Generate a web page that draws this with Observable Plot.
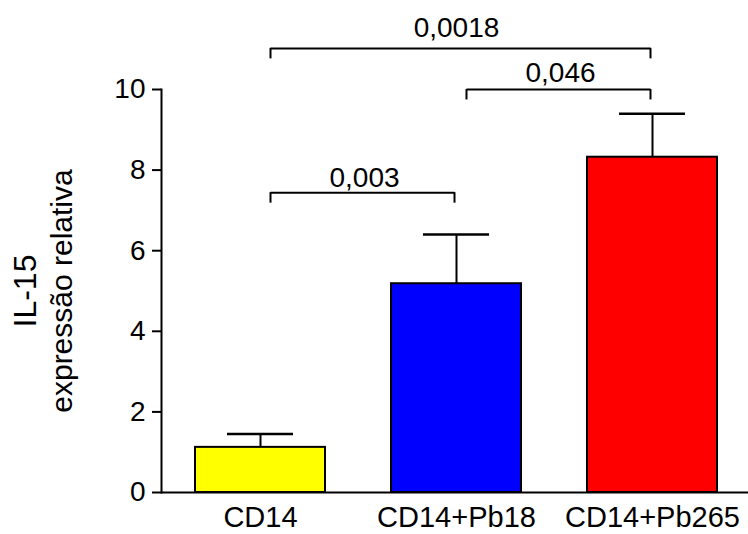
<!DOCTYPE html>
<html>
<head>
<meta charset="utf-8">
<script src="https://cdn.jsdelivr.net/npm/d3@7"></script>
<script src="https://cdn.jsdelivr.net/npm/@observablehq/plot@0.6"></script>
<style>
  html, body { margin: 0; padding: 0; background: #fff; }
  g[aria-label^="x-axis"] text { font-size: 29px; }
</style>
</head>
<body>
<div id="chart"></div>
<script>
// ---- data ----
const groups = ["CD14", "CD14+Pb18", "CD14+Pb265"];
const means = [1.12, 5.18, 8.32];
const errors = [0.33, 1.22, 1.08];
const barColors = ["#ffff00", "#0000ff", "#ff0000"];
const yTicks = [0, 2, 4, 6, 8, 10];

const bracketFrom = ["CD14", "CD14+Pb18", "CD14"];
const bracketTo = ["CD14+Pb18", "CD14+Pb265", "CD14+Pb265"];
const bracketLabel = ["0,003", "0,046", "0,0018"];
const bracketLevel = [7.44, 10.0, 11.02];
const labelLevel = [7.57, 10.18, 11.30];

const yTitle = "IL-15";
const ySubtitle = "expressão relativa";

// ---- build tables ----
const bars = groups.map((g, i) => ({group: g, value: means[i], err: errors[i]}));
const brackets = bracketFrom.map((f, i) => ({
  from: f,
  to: bracketTo[i],
  label: bracketLabel[i],
  level: bracketLevel[i],
  labelLevel: labelLevel[i],
  span: groups.indexOf(bracketTo[i]) - groups.indexOf(f)
}));

const font = "'Liberation Sans', Arial, sans-serif";

const chart = Plot.plot({
  width: 748,
  height: 534,
  marginLeft: 161,
  marginRight: 0,
  marginTop: 89,
  marginBottom: 42,
  style: {fontSize: "28px", fontFamily: font, color: "black", background: "white", strokeWidth: 2},
  x: {
    domain: groups,
    range: [161, 751],
    paddingInner: 0.339,
    paddingOuter: 0.169,
    tickSize: 0,
    tickPadding: 14,
    label: null
  },
  y: {
    domain: [0, 10],
    ticks: yTicks,
    tickSize: 9,
    tickPadding: 7,
    line: true,
    label: null
  },
  color: {domain: groups, range: barColors},
  marks: [
    Plot.barY(bars, {x: "group", y: "value", fill: "group", stroke: "black", strokeWidth: 2}),
    Plot.ruleX(bars, {x: "group", y1: "value", y2: d => d.value + d.err, stroke: "black", strokeWidth: 2}),
    Plot.tickY(bars, {x: "group", y: d => d.value + d.err, insetLeft: 32, insetRight: 32, stroke: "black", strokeWidth: 2.5}),
    Plot.ruleY([0], {stroke: "black", strokeWidth: 2}),
    // brackets
    Plot.arrow(brackets, {
      x1: "from", x2: "to", y1: "level", y2: "level",
      insetStart: 10, insetEnd: 2, headLength: 0, bend: 0,
      stroke: "black", strokeWidth: 2, strokeLinecap: "butt"
    }),
    Plot.ruleX(brackets, {x: "from", y1: "level", y2: d => d.level - 0.26, dx: 10, stroke: "black", strokeWidth: 2}),
    Plot.ruleX(brackets, {x: "to", y1: "level", y2: d => d.level - 0.26, dx: -2, stroke: "black", strokeWidth: 2}),
    Plot.text(brackets.filter(d => d.span === 1), {
      x: "from", y: "labelLevel", text: "label", dx: 104, lineAnchor: "bottom", fontSize: 28, fill: "black"
    }),
    Plot.text(brackets.filter(d => d.span === 2), {
      x: d => groups[groups.indexOf(d.from) + 1], y: "labelLevel", text: "label", lineAnchor: "bottom", fontSize: 28, fill: "black"
    }),
    // y axis titles
    Plot.text([yTitle], {frameAnchor: "left", textAnchor: "middle", lineAnchor: "middle", rotate: -90, dx: -136, fontSize: 32, fill: "black"}),
    Plot.text([ySubtitle], {frameAnchor: "left", textAnchor: "middle", lineAnchor: "middle", rotate: -90, dx: -99, fontSize: 30, fill: "black"})
  ]
});

document.getElementById("chart").appendChild(chart);
</script>
</body>
</html>
